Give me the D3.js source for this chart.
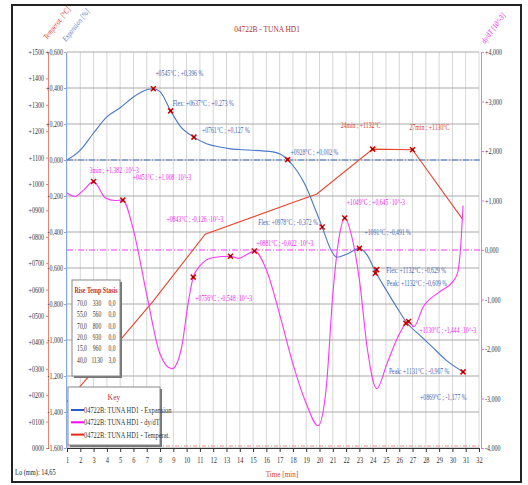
<!DOCTYPE html>
<html><head><meta charset="utf-8">
<script src="https://cdn.jsdelivr.net/npm/d3@7"></script>
<style>
body{margin:0;background:#fff}
text{font-family:"Liberation Serif","Times New Roman",serif}
</style>
</head><body>
<svg id="chart" width="528" height="485"></svg>
<script>
// ---- data ----
const minutes = d3.range(1, 33);

const expansionTime = [1, 2, 3, 4, 5, 6, 7, 7.5, 8, 8.8, 9.5, 10.55, 11.5, 12.5, 13.3, 14, 16.5, 17.1, 17.6, 18.3, 19, 19.5, 20.2, 20.8, 21.3, 22, 23, 23.6, 24.2, 25, 26, 26.6, 27.5, 28.5, 29.5, 30.8];
const expansionPct  = [0, 0.055, 0.15, 0.24, 0.29, 0.35, 0.39, 0.396, 0.38, 0.273, 0.19, 0.127, 0.09, 0.072, 0.062, 0.058, 0.045, 0.03, 0.002, -0.06, -0.15, -0.24, -0.372, -0.49, -0.54, -0.525, -0.491, -0.53, -0.62, -0.72, -0.84, -0.907, -0.97, -1.04, -1.11, -1.177];

const dydtTime  = [1, 1.6, 2.2, 3, 3.9, 4.6, 5.2, 6, 7, 8, 8.9, 9.6, 10.1, 10.5, 11, 12, 13.3, 13.9, 14.6, 15.1, 16, 17, 18, 19, 19.9, 20.5, 21, 21.5, 21.9, 22.4, 23, 23.6, 24.3, 25.1, 26, 26.7, 27.1, 27.8, 29, 30, 30.4, 30.6, 30.8];
const dydtValue = [1.15, 1.08, 1.2, 1.382, 1.05, 1.0, 1.008, 0.4, -0.9, -2.1, -2.4, -2.0, -1.1, -0.548, -0.32, -0.15, -0.126, -0.17, -0.08, -0.022, -0.4, -1.3, -2.3, -3.1, -3.55, -2.8, -0.9, 0.3, 0.645, 0.3, -0.6, -2.0, -2.8, -2.28, -1.7, -1.444, -1.55, -1.15, -0.85, -0.65, -0.45, 0, 0.9];

const tempTime  = [1, 2.2, 5, 7.5, 11.4, 18, 19.8, 24, 27, 30.8];
const tempValue = [175, 246, 409, 557, 810, 930, 962, 1132, 1130, 864];

// axis tick values
const expTicks  = d3.range(-1.6, 0.61, 0.2).map(v => +v.toFixed(1));
const tempTicks = d3.range(0, 1501, 100);
const dydtTicks = d3.range(-4, 4.1, 1);

// heating programme table
const programRise   = ["70,0", "55,0", "70,0", "20,0", "15,0", "40,0"];
const programTemp   = ["330", "560", "800", "930", "960", "1130"];
const programStasis = ["0,0", "0,0", "0,0", "0,0", "0,0", "3,0"];

// annotated points: [time, value, label]
const expansionMarks = [
  [7.5, 0.396, "+0545°C ; +0,396 %"],
  [8.8, 0.273, "Flex: +0637°C ; +0,273 %"],
  [10.55, 0.127, "+0761°C ; +0,127 %"],
  [17.6, 0.002, "+0928°C ; +0,002 %"],
  [20.2, -0.372, "Flex: +0978°C ; -0,372 %"],
  [23.0, -0.491, "+1091°C ; -0,491 %"],
  [24.2, -0.629, "Flex: +1132°C ; -0,629 %"],
  [24.3, -0.609, "Peak: +1132°C ; -0,609 %"],
  [26.5, -0.907, "Peak: +1131°C ; -0,907 %"],
  [30.8, -1.177, "+0869°C ; -1,177 %"]
];
const dydtMarks = [
  [3, 1.382, "3min ; +1,382 ·10^-3"],
  [5.2, 1.008, "+0451°C ; +1,008 ·10^-3"],
  [10.5, -0.548, "+0756°C ; -0,548 ·10^-3"],
  [13.3, -0.126, "+0843°C ; -0,126 ·10^-3"],
  [15.1, -0.022, "+0881°C ; -0,022 ·10^-3"],
  [21.9, 0.645, "+1049°C ; +0,645 ·10^-3"],
  [26.7, -1.444, "+1130°C ; -1,444 ·10^-3"]
];
const tempMarks = [
  [24, 1132, "24min ; +1132°C"],
  [27, 1130, "27min ; +1130°C"]
];

// label offsets (px) from each marker, same order as the mark lists
const expLabelOffset  = [[2,-13],[2,-5],[8,-4],[3,-5],[-64,-2],[5,-13],[11,0],[10,16],[-17,51],[-43,28]];
const dydtLabelOffset = [[-4,-9],[10,-20],[2,24],[-64,-34],[2,-5],[2,-13],[11,12]];
const tempLabelOffset = [[-32,-21],[-3,-20]];

// ---- layout ----
const svg = d3.select("#chart");
const X0 = 67, X1 = 479, Y0 = 52, Y1 = 448;
const x  = d3.scaleLinear([1, 32], [X0, X1]);
const yE = d3.scaleLinear([-1.6, 0.6], [Y1, Y0]);
const yT = d3.scaleLinear([0, 1500], [Y1, Y0]);
const yD = d3.scaleLinear([-4, 4], [Y1, Y0]);

const BLUE = "#4a78c8", MAG = "#ff33ff", RED = "#e8452e";
const BLUE_TXT = "#3f63b5", MAG_TXT = "#f020f0", RED_TXT = "#e23a28";

function squeeze(sel, k) {
  sel.each(function () {
    const L = this.getComputedTextLength();
    if (L > 0) {
      this.setAttribute("textLength", (L * k).toFixed(1));
      this.setAttribute("lengthAdjust", "spacingAndGlyphs");
    }
  });
}

// outer frame
svg.append("rect").attr("x", 12).attr("y", 5).attr("width", 509).attr("height", 477)
  .attr("fill", "#fff").attr("stroke", "#222").attr("stroke-width", 2);

// title
svg.append("text").attr("x", 267).attr("y", 32).attr("text-anchor", "middle")
  .attr("font-size", 9).attr("fill", "#b0302a").text("04722B - TUNA HD1").call(squeeze, 0.82);

// grid
const grid = svg.append("g");
grid.selectAll(".v").data(minutes).join("line")
  .attr("x1", d => x(d)).attr("x2", d => x(d)).attr("y1", Y0).attr("y2", Y1)
  .attr("stroke", "#d6d6d6").attr("stroke-width", 1);
grid.selectAll(".h").data(expTicks).join("line")
  .attr("x1", X0).attr("x2", X1).attr("y1", d => yE(d)).attr("y2", d => yE(d))
  .attr("stroke", "#a9a9a9").attr("stroke-width", 1);

// zero reference lines
svg.append("line").attr("x1", X0).attr("x2", X1 + 2).attr("y1", yE(0)).attr("y2", yE(0))
  .attr("stroke", BLUE).attr("stroke-dasharray", "6,2,1,2");
svg.append("line").attr("x1", X0).attr("x2", X1 + 2).attr("y1", yD(0)).attr("y2", yD(0))
  .attr("stroke", MAG).attr("stroke-dasharray", "6,2,1,2");
svg.append("line").attr("x1", X0).attr("x2", X1 + 2).attr("y1", yT(0) - 2).attr("y2", yT(0) - 2)
  .attr("stroke", "#f08a80").attr("stroke-dasharray", "4,2,1,2");

// series
const lineOf = (xs, ys, ysc, curve) => d3.line().x((d, i) => x(xs[i])).y((d, i) => ysc(ys[i])).curve(curve)(xs);
svg.append("path").attr("d", lineOf(tempTime, tempValue, yT, d3.curveLinear))
  .attr("fill", "none").attr("stroke", RED).attr("stroke-width", 1.1);
svg.append("path").attr("d", lineOf(dydtTime, dydtValue, yD, d3.curveMonotoneX))
  .attr("fill", "none").attr("stroke", MAG).attr("stroke-width", 1.1);
svg.append("path").attr("d", lineOf(expansionTime, expansionPct, yE, d3.curveMonotoneX))
  .attr("fill", "none").attr("stroke", BLUE).attr("stroke-width", 1.1);

// markers + labels
function marks(list, offs, ysc, color) {
  const g = svg.append("g");
  list.forEach((m, i) => {
    const px = x(m[0]), py = ysc(m[1]);
    g.append("path").attr("d", `M${px-2.5},${py-2.5}L${px+2.5},${py+2.5}M${px+2.5},${py-2.5}L${px-2.5},${py+2.5}`)
      .attr("stroke", "#e00000").attr("stroke-width", 1.5);
    g.append("rect").attr("x", px - 1).attr("y", py - 1).attr("width", 2).attr("height", 2).attr("fill", "#800");
    g.append("text").attr("x", px + offs[i][0]).attr("y", py + offs[i][1])
      .attr("font-size", 8).attr("fill", color).text(m[2]).call(squeeze, 0.72);
  });
}
marks(expansionMarks, expLabelOffset, yE, BLUE_TXT);
marks(dydtMarks, dydtLabelOffset, yD, MAG_TXT);
marks(tempMarks, tempLabelOffset, yT, RED_TXT);

// axes
const fmt3 = v => (v > 0 ? "+" : "") + d3.format(".3f")(v).replace(".", ",").replace("−", "-");
const fmtT = v => (v > 0 ? "+" : "") + d3.format("04d")(v);

function styleAxis(g, color) {
  g.select(".domain").attr("stroke", color);
  g.selectAll(".tick line").attr("stroke", color);
  g.selectAll(".tick text").attr("fill", "#333").attr("font-size", 8)
    .attr("font-family", "Liberation Serif, serif").call(squeeze, 0.75);
}
svg.append("g").attr("transform", `translate(48,0)`)
  .call(d3.axisLeft(yT).tickValues(tempTicks).tickFormat(fmtT).tickSize(2).tickSizeOuter(0).tickPadding(2))
  .call(styleAxis, "#f08070");
svg.append("g").attr("transform", `translate(66,0)`)
  .call(d3.axisLeft(yE).tickValues(expTicks).tickFormat(fmt3).tickSize(2).tickSizeOuter(0).tickPadding(1))
  .call(styleAxis, "#88a8e0");
svg.append("g").attr("transform", `translate(481,0)`)
  .call(d3.axisRight(yD).tickValues(dydtTicks).tickFormat(fmt3).tickSize(3).tickSizeOuter(0).tickPadding(1))
  .call(styleAxis, "#f070f0");
const xa = svg.append("g").attr("transform", `translate(0,${Y1})`)
  .call(d3.axisBottom(x).tickValues(minutes).tickFormat(d3.format("d")).tickSize(4).tickSizeOuter(0).tickPadding(5));
xa.select(".domain").attr("stroke", "#333");
xa.selectAll(".tick line").attr("stroke", "#333");
xa.selectAll(".tick text").attr("fill", "#333").attr("font-size", 8)
  .attr("font-family", "Liberation Serif, serif").call(squeeze, 0.8);

// axis titles (slanted)
svg.append("text").attr("transform", "translate(47,40) rotate(-52)")
  .attr("font-size", 8).attr("font-style", "italic").attr("fill", RED_TXT).text("Temperat. [°C]").call(squeeze, 0.8);
svg.append("text").attr("transform", "translate(66,42) rotate(-52)")
  .attr("font-size", 8).attr("font-style", "italic").attr("fill", "#5a80c8").text("Expansion [%]").call(squeeze, 0.8);
svg.append("text").attr("transform", "translate(485,44) rotate(-54)")
  .attr("font-size", 8).attr("font-style", "italic").attr("fill", MAG_TXT).text("dy/dT [10^-3]").call(squeeze, 0.8);
svg.append("text").attr("x", 282).attr("y", 477).attr("text-anchor", "middle")
  .attr("font-size", 9).attr("fill", RED_TXT).text("Time [min]").call(squeeze, 0.8);
svg.append("text").attr("x", 15).attr("y", 475)
  .attr("font-size", 8).attr("fill", "#222").text("Lo (mm): 14,65").call(squeeze, 0.8);

// programme table
const tb = svg.append("g");
tb.append("rect").attr("x", 74).attr("y", 282).attr("width", 48).attr("height", 96).attr("fill", "#777");
tb.append("rect").attr("x", 72).attr("y", 280).attr("width", 48).attr("height", 96)
  .attr("fill", "#fff").attr("stroke", "#888").attr("stroke-width", 1);
tb.append("text").attr("x", 96).attr("y", 293).attr("text-anchor", "middle").attr("font-size", 8)
  .attr("font-weight", "bold").attr("fill", "#c8302a").text("Rise Temp Stasis").call(squeeze, 0.75);
programRise.forEach((r, i) => {
  const yy = 306 + i * 11.3;
  [[r, 82], [programTemp[i], 97], [programStasis[i], 112]].forEach(([t, cx]) =>
    tb.append("text").attr("x", cx).attr("y", yy).attr("text-anchor", "middle").attr("font-size", 7.5)
      .attr("fill", "#333").text(t).call(squeeze, 0.75));
});

// key
const key = svg.append("g");
key.append("rect").attr("x", 70).attr("y", 389).attr("width", 92).attr("height", 58).attr("fill", "#777");
key.append("rect").attr("x", 68).attr("y", 387).attr("width", 92).attr("height", 58)
  .attr("fill", "#fff").attr("stroke", "#888");
key.append("text").attr("x", 114).attr("y", 400).attr("text-anchor", "middle").attr("font-size", 9)
  .attr("fill", "#c8302a").text("Key").call(squeeze, 0.85);
const keyNames = ["04722B: TUNA HD1 - Expansion", "04722B: TUNA HD1 - dy/dT", "04722B: TUNA HD1 - Temperat."];
const keyColors = ["#2a5cc8", "#ff00ff", "#e82810"];
keyNames.forEach((n, i) => {
  const yy = 413 + i * 12.3;
  key.append("line").attr("x1", 71).attr("x2", 84).attr("y1", yy - 3).attr("y2", yy - 3)
    .attr("stroke", keyColors[i]).attr("stroke-width", 2);
  key.append("text").attr("x", 84).attr("y", yy).attr("font-size", 8).attr("fill", "#333")
    .text(n).call(squeeze, 0.8);
});
</script>
</body></html>
